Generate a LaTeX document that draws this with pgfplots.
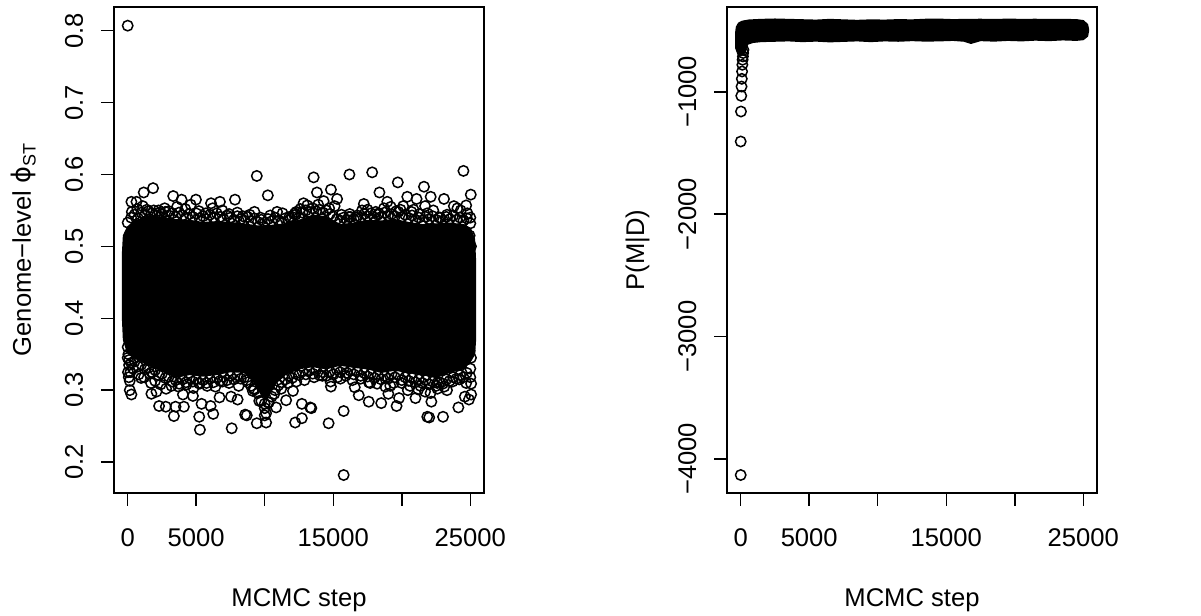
\documentclass[border=0pt]{standalone}
\usepackage{fontspec}
\setmainfont{Liberation Sans}
\newfontfamily\dejavu{DejaVu Sans}
\usepackage{pgfplots}
\pgfplotsset{compat=1.18}

\pgfplotsset{
  rbase/.style={
    scale only axis, width=185pt, height=243pt,
    xmin=-1000, xmax=26000,
    axis line style={line width=0.75pt},
    tick style={line width=0.75pt, black},
    tick align=outside, major tick length=6.5pt,
    xtick pos=bottom, ytick pos=left,
    scaled ticks=false,
    xtick={0,5000,10000,15000,20000,25000},
    xticklabels={0,5000,,15000,,25000},
    ticklabel style={font=\fontsize{12.8}{14}\selectfont, inner sep=0pt},
    xticklabel style={anchor=north, yshift=-11.3pt},
    yticklabel style={rotate=90, anchor=base, yshift=9pt},
    label style={font=\fontsize{12.8}{14}\selectfont, inner sep=0pt},
    xlabel={MCMC step},
    xlabel style={at={(axis description cs:0.5,0)}, anchor=base, yshift=-56.5pt},
    ylabel style={at={(axis description cs:0,0.5)}, anchor=base, yshift=41.5pt},
  },
  pts/.style={only marks, mark=o, mark size=2.6pt, mark options={line width=0.75pt, black}},
}

\begin{document}
\begin{tikzpicture}
\useasboundingbox (0,0) rectangle (600.5pt,308pt);

% left panel: genome-level phi_ST trace
\begin{axis}[rbase, at={(57pt,61.5pt)}, anchor=south west,
  ymin=0.157, ymax=0.833,
  ytick={0.2,0.3,0.4,0.5,0.6,0.7,0.8},
  yticklabels={0.2,0.3,0.4,0.5,0.6,0.7,0.8},
  ylabel={Genome−level {\dejavu ϕ}\raisebox{-0.35ex}{\fontsize{9}{9}\selectfont ST}},
]
% dense core of the chain
\addplot[fill=black, draw=black, line width=0.75pt] coordinates {
  (-370,0.49) (-300,0.515) (0,0.527) (500,0.535) (1500,0.542) (2500,0.540)
  (3500,0.537) (4500,0.536) (5500,0.533) (6500,0.534) (7500,0.533) (8500,0.531)
  (9500,0.528) (10500,0.529) (11500,0.531) (12500,0.536) (13500,0.543) (14500,0.541)
  (15500,0.530) (16500,0.532) (17500,0.536) (18500,0.535) (19500,0.537) (20500,0.533)
  (21500,0.530) (22500,0.531) (23500,0.532) (24500,0.530) (25000,0.525) (25300,0.510)
  (25370,0.480) (25370,0.370) (25300,0.350) (25000,0.340) (24500,0.330) (23500,0.325)
  (22500,0.318) (21500,0.322) (20500,0.325) (19500,0.328) (18500,0.325) (17500,0.330)
  (16500,0.332) (15500,0.335) (14500,0.330) (13500,0.333) (12500,0.330) (11500,0.322)
  (10800,0.310) (10200,0.290) (9800,0.292) (9300,0.310) (8500,0.325) (7500,0.326)
  (6500,0.322) (5500,0.320) (4500,0.322) (3500,0.318) (2500,0.327) (1500,0.335)
  (500,0.345) (0,0.352) (-300,0.370) (-370,0.400)
} -- cycle;
% inner upper fringe
\addplot[pts] coordinates {
  (0,0.533) (250,0.540) (500,0.544) (750,0.539) (1000,0.547) (1250,0.543) (1500,0.549)
  (1750,0.546) (2000,0.544) (2250,0.550) (2500,0.545) (2750,0.548) (3000,0.543)
  (3250,0.546) (3500,0.541) (3750,0.547) (4000,0.543) (4250,0.540) (4500,0.545)
  (4750,0.541) (5000,0.546) (5250,0.539) (5500,0.542) (5750,0.538) (6000,0.544)
  (6250,0.540) (6500,0.546) (6750,0.541) (7000,0.538) (7250,0.543) (7500,0.540)
  (7750,0.537) (8000,0.542) (8250,0.538) (8500,0.536) (8750,0.541) (9000,0.535)
  (9250,0.539) (9500,0.534) (9750,0.537) (10000,0.533) (10250,0.538) (10500,0.535)
  (10750,0.540) (11000,0.536) (11250,0.534) (11500,0.539) (11750,0.536) (12000,0.541)
  (12250,0.544) (12500,0.540) (12750,0.547) (13000,0.550) (13250,0.548) (13500,0.553)
  (13750,0.549) (14000,0.551) (14250,0.547) (14500,0.550) (14750,0.545) (15000,0.542)
  (15250,0.538) (15500,0.536) (15750,0.540) (16000,0.537) (16250,0.541) (16500,0.538)
  (16750,0.543) (17000,0.540) (17250,0.545) (17500,0.542) (17750,0.546) (18000,0.540)
  (18250,0.544) (18500,0.541) (18750,0.547) (19000,0.543) (19250,0.545) (19500,0.542)
  (19750,0.548) (20000,0.541) (20250,0.544) (20500,0.539) (20750,0.543) (21000,0.537)
  (21250,0.540) (21500,0.536) (21750,0.541) (22000,0.538) (22250,0.542) (22500,0.537)
  (22750,0.540) (23000,0.536) (23250,0.541) (23500,0.538) (23750,0.543) (24000,0.537)
  (24250,0.540) (24500,0.536) (24750,0.539) (25000,0.532) (24950,0.515) (25050,0.500)
};
% outer upper fringe
\addplot[pts] coordinates {
  (300,0.548) (700,0.552) (1100,0.556) (1400,0.551) (1900,0.550) (2300,0.547)
  (2700,0.553) (3000,0.549) (3600,0.555) (4200,0.552) (4600,0.558) (5200,0.549)
  (5700,0.546) (6200,0.553) (6900,0.550) (7400,0.545) (8000,0.547) (8400,0.542)
  (8900,0.544) (9700,0.540) (10400,0.543) (10900,0.548) (11800,0.541) (12200,0.546)
  (12600,0.552) (13100,0.557) (13900,0.558) (14300,0.563) (14700,0.553) (15100,0.556)
  (15600,0.544) (16200,0.545) (16700,0.540) (17100,0.550) (17500,0.551) (18100,0.548)
  (18700,0.553) (19200,0.555) (19600,0.549) (20100,0.556) (20700,0.548) (21300,0.545)
  (21700,0.556) (22300,0.550) (22800,0.540) (23300,0.544) (23800,0.556) (24300,0.550)
  (24700,0.557) (25000,0.540)
};
% inner lower fringe
\addplot[pts] coordinates {
  (0,0.345) (250,0.338) (500,0.340) (750,0.333) (1000,0.336) (1250,0.329) (1500,0.331)
  (1750,0.325) (2000,0.328) (2250,0.321) (2500,0.323) (2750,0.317) (3000,0.319)
  (3250,0.312) (3500,0.314) (3750,0.309) (4000,0.315) (4250,0.311) (4500,0.317)
  (4750,0.312) (5000,0.315) (5250,0.309) (5500,0.314) (5750,0.310) (6000,0.316)
  (6250,0.311) (6500,0.317) (6750,0.313) (7000,0.319) (7250,0.314) (7500,0.320)
  (7750,0.315) (8000,0.321) (8250,0.316) (8500,0.318) (8750,0.311) (9000,0.306)
  (9250,0.301) (9500,0.296) (9750,0.285) (10000,0.281) (10250,0.283) (10500,0.291)
  (10750,0.300) (11000,0.307) (11250,0.311) (11500,0.315) (11750,0.320) (12000,0.317)
  (12250,0.323) (12500,0.321) (12750,0.326) (13000,0.322) (13250,0.327) (13500,0.323)
  (13750,0.328) (14000,0.321) (14250,0.325) (14500,0.320) (14750,0.326) (15000,0.322)
  (15250,0.329) (15500,0.325) (15750,0.330) (16000,0.324) (16250,0.327) (16500,0.322)
  (16750,0.326) (17000,0.320) (17250,0.324) (17500,0.319) (17750,0.323) (18000,0.317)
  (18250,0.321) (18500,0.315) (18750,0.320) (19000,0.316) (19250,0.322) (19500,0.318)
  (19750,0.321) (20000,0.314) (20250,0.318) (20500,0.313) (20750,0.317) (21000,0.311)
  (21250,0.315) (21500,0.310) (21750,0.314) (22000,0.308) (22250,0.312) (22500,0.306)
  (22750,0.311) (23000,0.309) (23250,0.315) (23500,0.313) (23750,0.318) (24000,0.316)
  (24250,0.321) (24500,0.318) (24750,0.324) (25000,0.330) (25050,0.345) (24950,0.355)
  (0,0.360) (50,0.350) (100,0.342) (20,0.325) (80,0.318)
};
% outer lower fringe
\addplot[pts] coordinates {
  (100,0.335) (200,0.325) (400,0.330) (800,0.322) (1200,0.318) (1600,0.323)
  (2000,0.313) (2400,0.308) (2800,0.302) (3200,0.306) (3700,0.305) (4300,0.308)
  (4800,0.303) (5200,0.310) (5800,0.306) (6400,0.305) (6900,0.312) (7400,0.310)
  (8100,0.306) (8700,0.314) (9200,0.302) (9600,0.285) (10000,0.275) (10100,0.268)
  (10300,0.283) (10700,0.295) (11200,0.302) (11700,0.310) (12300,0.312) (12900,0.314)
  (13600,0.318) (14200,0.320) (14800,0.312) (15300,0.318) (15900,0.320) (16400,0.314)
  (17000,0.316) (17600,0.311) (18200,0.309) (18800,0.305) (19400,0.310) (20000,0.310)
  (20600,0.306) (21200,0.301) (21700,0.298) (22100,0.296) (22600,0.302) (23100,0.305)
  (23700,0.312) (24200,0.315) (24700,0.310) (25000,0.318)
};
% isolated draws
\addplot[pts] coordinates {
  (0,0.807) (9420,0.598) (10225,0.571) (13570,0.596) (16180,0.600) (17840,0.603)
  (24500,0.605) (25035,0.572) (19710,0.589) (21620,0.583) (18370,0.575) (1850,0.581)
  (1170,0.575) (3320,0.570) (4980,0.565) (3930,0.565) (270,0.562) (640,0.562)
  (6080,0.560) (6730,0.562) (7830,0.565) (9250,0.548) (11300,0.546) (12300,0.548)
  (12830,0.560) (13810,0.575) (14830,0.579) (15280,0.566) (17230,0.559) (18940,0.562)
  (20400,0.569) (21080,0.566) (22110,0.569) (23080,0.566) (24060,0.553) (24790,0.546)
  (16130,0.541) (18320,0.546) (19910,0.551) (21860,0.546) (20860,0.551)
  (15760,0.182) (5270,0.245) (7590,0.247) (9420,0.254) (10100,0.255) (14660,0.254)
  (23010,0.263) (21860,0.263) (22000,0.262) (12710,0.261) (15760,0.271) (3370,0.264)
  (8690,0.265) (6240,0.267) (13320,0.276) (13400,0.275) (10830,0.276) (10000,0.265)
  (24130,0.276) (2290,0.278) (2780,0.277) (5390,0.281) (6050,0.278) (270,0.294)
  (150,0.300) (2100,0.298) (7540,0.291) (8020,0.287) (12710,0.281) (17590,0.284)
  (18500,0.282) (19620,0.278) (16860,0.293) (16570,0.304) (19800,0.289) (22160,0.284)
  (24900,0.287) (25060,0.294) (24600,0.291) (25060,0.309) (23300,0.300) (21000,0.289)
  (19020,0.295) (20440,0.300) (15520,0.316) (14830,0.305) (11560,0.286) (4030,0.294)
  (3490,0.277) (4760,0.292) (6700,0.290) (9130,0.299) (12060,0.299) (1700,0.310)
  (980,0.317) (150,0.313) (17700,0.310) (19160,0.306) (21360,0.306) (22580,0.310)
  (1730,0.295) (4100,0.277) (5220,0.263) (8570,0.266) (12220,0.255)
};
\end{axis}

% right panel: posterior probability trace
\begin{axis}[rbase, at={(363.5pt,61.5pt)}, anchor=south west,
  ymin=-4278, ymax=-307,
  ytick={-4000,-3000,-2000,-1000},
  yticklabels={−4000,−3000,−2000,−1000},
  ylabel={P(M|D)},
]
\addplot[fill=black, draw=black, line width=0.75pt, line join=round] coordinates {
  (-360,-640) (-360,-520) (-300,-470) (-150,-440) (100,-425) (600,-415) (1500,-410)
  (2500,-407) (3500,-410) (4500,-413) (5500,-416) (6500,-410) (7500,-414) (8500,-418)
  (9500,-414) (10500,-416) (11500,-412) (12500,-414) (13500,-409) (14500,-408)
  (15500,-412) (16500,-410) (17500,-409) (18500,-411) (19500,-408) (20500,-410)
  (21500,-409) (22500,-411) (23500,-410) (24500,-412) (25000,-420) (25300,-450)
  (25380,-495) (25300,-545) (25000,-572) (24500,-578) (23500,-574) (22500,-580)
  (21500,-576) (20500,-582) (19500,-578) (18500,-584) (17500,-580) (16800,-603)
  (16300,-585) (15500,-578) (14500,-582) (13500,-584) (12500,-580) (11500,-585)
  (10500,-582) (9500,-588) (8500,-582) (7500,-586) (6500,-590) (5500,-584)
  (4500,-588) (3500,-582) (2500,-585) (1500,-588) (900,-595) (500,-610) (400,-640)
  (300,-680) (100,-700) (-200,-690)
} -- cycle;
\addplot[pts] coordinates {
  (0,-4131) (0,-1406) (20,-1161) (40,-1033) (60,-957) (80,-894) (100,-834)
  (120,-779) (140,-738) (160,-711) (180,-683) (200,-657)
};
\end{axis}
\end{tikzpicture}
\end{document}
